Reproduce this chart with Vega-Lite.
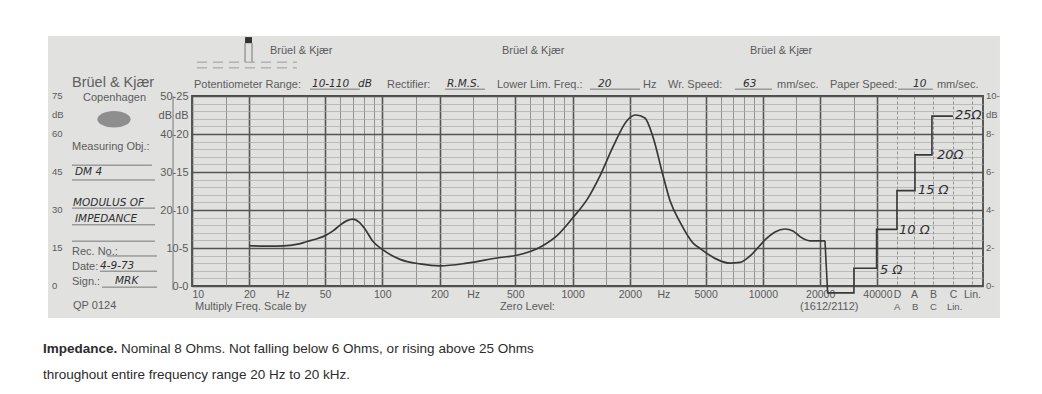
{
 "$schema": "https://vega.github.io/schema/vega-lite/v6.json",
 "width": 791,
 "height": 190,
 "autosize": {"type": "none"},
 "padding": {"left": 192, "top": 96, "right": 59, "bottom": 108},
 "background": "#e1e1e0",
 "config": {"view": {"stroke": "#4a4a4a", "strokeWidth": 1.8}, "font": "Liberation Sans"},
 "datasets": {
  "frame": [
   {"f": 0.9, "f2": 400000, "db": 65.8, "db2": 80},
   {"f": 0.9, "f2": 400000, "db": -8.4, "db2": -35},
   {"f": 0.9, "f2": 1.751, "db": -8.4, "db2": 65.8},
   {"f": 176200, "f2": 400000, "db": -8.4, "db2": 65.8}
  ],
  "lines": [
   {"f": 2.341, "f2": 6.16, "db": 31.8, "db2": 31.8},
   {"f": 2.341, "f2": 6.39, "db": 27.9, "db2": 27.9},
   {"f": 2.341, "f2": 6.39, "db": 20.5, "db2": 20.5},
   {"f": 2.341, "f2": 6.39, "db": 16.1, "db2": 16.1},
   {"f": 2.341, "f2": 6.39, "db": 11.8, "db2": 11.8},
   {"f": 3.57, "f2": 6.55, "db": 7.9, "db2": 7.9},
   {"f": 3.285, "f2": 6.55, "db": 3.9, "db2": 3.9},
   {"f": 3.365, "f2": 6.55, "db": -0.3, "db2": -0.3},
   {"f": 41.7, "f2": 76.3, "db": 51.8, "db2": 51.8},
   {"f": 213.5, "f2": 346.5, "db": 51.8, "db2": 51.8},
   {"f": 1234, "f2": 2261, "db": 51.8, "db2": 51.8},
   {"f": 7136, "f2": 11164, "db": 51.8, "db2": 51.8},
   {"f": 51300, "f2": 78300, "db": 51.8, "db2": 51.8},
   {"f": 7.95, "f2": 7.95, "db": 50, "db2": -1},
   {"f": 19.0, "f2": 19.0, "db": 63.9, "db2": 58.9},
   {"f": 20.67, "f2": 20.67, "db": 63.9, "db2": 58.9}
  ],
  "dashes": [
   {"f": 10.62, "f2": 35.6, "db": 58.9, "db2": 58.9},
   {"f": 10.62, "f2": 35.6, "db": 57.4, "db2": 57.4}
  ],
  "marker": [{"f": 19.0, "f2": 20.67, "db": 63.9, "db2": 65.5}],
  "logo": [{"f": 3.89, "db": 43.9}],
  "squares": [
   {"f": 12.59}, {"f": 15.85}, {"f": 19.95}, {"f": 25.12}, {"f": 31.62}, {"f": 39.81}, {"f": 50.12}, {"f": 63.1}, {"f": 79.43}, {"f": 100},
   {"f": 125.9}, {"f": 158.5}, {"f": 199.5}, {"f": 251.2}, {"f": 316.2}, {"f": 398.1}, {"f": 501.2}, {"f": 631}, {"f": 794.3}, {"f": 1000},
   {"f": 1259}, {"f": 1585}, {"f": 1995}, {"f": 2512}, {"f": 3162}, {"f": 3981}, {"f": 5012}, {"f": 6310}, {"f": 7943}, {"f": 10000},
   {"f": 12589}, {"f": 15849}, {"f": 19953}, {"f": 25119}, {"f": 31623}, {"f": 39811}, {"f": 50119}, {"f": 63096}, {"f": 79433}, {"f": 100000},
   {"f": 125893}
  ],
  "curve": [
   {"f": 20, "db": 10.6}, {"f": 24, "db": 10.5}, {"f": 28, "db": 10.5}, {"f": 32.7, "db": 10.7}, {"f": 36, "db": 11.0},
   {"f": 40.2, "db": 11.7}, {"f": 44.5, "db": 12.3}, {"f": 48.8, "db": 13.0}, {"f": 55.1, "db": 14.5}, {"f": 59.9, "db": 16.0},
   {"f": 65.3, "db": 17.2}, {"f": 70.2, "db": 17.6}, {"f": 75.5, "db": 16.8}, {"f": 81.1, "db": 15.0}, {"f": 89.4, "db": 11.7},
   {"f": 100.9, "db": 9.5}, {"f": 123.9, "db": 7.0}, {"f": 158, "db": 5.8}, {"f": 201, "db": 5.3}, {"f": 279, "db": 6.0},
   {"f": 415, "db": 7.5}, {"f": 510, "db": 8.1}, {"f": 674, "db": 10.2}, {"f": 850, "db": 13.8}, {"f": 1005, "db": 18.0},
   {"f": 1200, "db": 23.0}, {"f": 1393, "db": 29.0}, {"f": 1630, "db": 36.6}, {"f": 1930, "db": 43.5}, {"f": 2150, "db": 45.0},
   {"f": 2400, "db": 44.2}, {"f": 2646, "db": 39.2}, {"f": 2990, "db": 29.0}, {"f": 3250, "db": 22.5}, {"f": 3700, "db": 16.5},
   {"f": 4300, "db": 11.3}, {"f": 4700, "db": 9.8}, {"f": 5740, "db": 7.0}, {"f": 6710, "db": 6.0}, {"f": 7580, "db": 6.2},
   {"f": 8550, "db": 7.9}, {"f": 10500, "db": 12.6}, {"f": 11580, "db": 14.2}, {"f": 13070, "db": 15.0}, {"f": 14390, "db": 14.5},
   {"f": 15670, "db": 13.0}, {"f": 17670, "db": 11.9}, {"f": 21200, "db": 11.9}
  ],
  "cal": [
   {"i": 1, "f": 21200, "db": 11.9}, {"i": 2, "f": 21900, "db": -1.8}, {"i": 3, "f": 30100, "db": -1.8},
   {"i": 4, "f": 30100, "db": 4.66}, {"i": 5, "f": 39600, "db": 4.66}, {"i": 6, "f": 39600, "db": 14.9},
   {"i": 7, "f": 50660, "db": 14.9}, {"i": 8, "f": 50660, "db": 25.1}, {"i": 9, "f": 63000, "db": 25.1},
   {"i": 10, "f": 63000, "db": 34.5}, {"i": 11, "f": 77370, "db": 34.5}, {"i": 12, "f": 77370, "db": 44.7},
   {"i": 13, "f": 99760, "db": 44.7}
  ],
  "ps": [
   {"f": 1.838, "db": 50, "t": "75"}, {"f": 1.838, "db": 45, "t": "dB"}, {"f": 1.838, "db": 40, "t": "60"},
   {"f": 1.838, "db": 30, "t": "45"}, {"f": 1.838, "db": 20, "t": "30"}, {"f": 1.838, "db": 10, "t": "15"}, {"f": 1.838, "db": 0, "t": "0"},
   {"f": 148700, "db": 50, "t": "10-"}, {"f": 148700, "db": 45, "t": "dB"}, {"f": 148700, "db": 40, "t": "8-"},
   {"f": 148700, "db": 30, "t": "6-"}, {"f": 148700, "db": 20, "t": "4-"}, {"f": 148700, "db": 10, "t": "2-"}, {"f": 148700, "db": 0, "t": "0-"},
   {"f": 48900, "db": -5.5, "t": "A"}, {"f": 60770, "db": -5.5, "t": "B"}, {"f": 75500, "db": -5.5, "t": "C"}, {"f": 92800, "db": -5.5, "t": "Lin."}
  ],
  "pm": [
   {"f": 25.7, "db": 61.8, "t": "Brüel & Kjær"},
   {"f": 425.6, "db": 61.8, "t": "Brüel & Kjær"},
   {"f": 8550, "db": 61.8, "t": "Brüel & Kjær"},
   {"f": 2.674, "db": 49.5, "t": "Copenhagen"},
   {"f": 10.24, "db": 52.9, "t": "Potentiometer Range:"},
   {"f": 105.9, "db": 52.9, "t": "Rectifier:"},
   {"f": 400.6, "db": 52.9, "t": "Lower Lim. Freq.:"},
   {"f": 2344, "db": 52.9, "t": "Hz"},
   {"f": 3172, "db": 52.9, "t": "Wr. Speed:"},
   {"f": 11863, "db": 52.9, "t": "mm/sec."},
   {"f": 22520, "db": 52.9, "t": "Paper Speed:"},
   {"f": 82200, "db": 52.9, "t": "mm/sec."},
   {"f": 2.341, "db": 36.6, "t": "Measuring Obj.:"},
   {"f": 2.341, "db": 8.9, "t": "Rec. No.:"},
   {"f": 2.341, "db": 5.0, "t": "Date:"},
   {"f": 2.341, "db": 1.05, "t": "Sign.:"},
   {"f": 2.37, "db": -5.3, "t": "QP 0124"},
   {"f": 10.37, "db": -5.5, "t": "Multiply Freq. Scale by"},
   {"f": 415, "db": -5.5, "t": "Zero Level:"},
   {"f": 15670, "db": -5.5, "t": "(1612/2112)"}
  ],
  "brand": [{"f": 2.341, "db": 53.4, "t": "Brüel & Kjær"}],
  "hand": [
   {"f": 42.7, "db": 53.2, "t": "10-110"},
   {"f": 74.5, "db": 53.2, "t": "dB"},
   {"f": 218.8, "db": 53.2, "t": "R.M.S."},
   {"f": 1360, "db": 53.2, "t": "20"},
   {"f": 7860, "db": 53.2, "t": "63"},
   {"f": 61500, "db": 53.2, "t": "10"},
   {"f": 2.428, "db": 30.0, "t": "DM 4"},
   {"f": 2.37, "db": 21.8, "t": "MODULUS OF"},
   {"f": 2.428, "db": 17.6, "t": "IMPEDANCE"},
   {"f": 3.285, "db": 5.3, "t": "4-9-73"},
   {"f": 3.94, "db": 1.3, "t": "MRK"}
  ],
  "ohm": [
   {"f": 41250, "db": 4.2, "t": "5 Ω"},
   {"f": 51900, "db": 14.7, "t": "10 Ω"},
   {"f": 65300, "db": 25.3, "t": "15 Ω"},
   {"f": 82200, "db": 34.5, "t": "20Ω"},
   {"f": 102200, "db": 45.0, "t": "25Ω"}
  ],
  "capbold": [{"f": 1.648, "db": -16.6, "t": "Impedance."}],
  "cap": [
   {"f": 4.236, "db": -16.6, "t": "Nominal 8 Ohms. Not falling below 6 Ohms, or rising above 25 Ohms"},
   {"f": 1.648, "db": -23.4, "t": "throughout entire frequency range 20 Hz to 20 kHz."}
  ]
 },
 "encoding": {
  "x": {
   "field": "f", "type": "quantitative",
   "scale": {"type": "log", "domain": [10, 143500], "nice": false},
   "axis": {
    "title": null,
    "values": [10, 15, 20, 30, 40, 50, 60, 70, 80, 90, 100, 150, 200, 300, 400, 500, 600, 700, 800, 900, 1000, 1500, 2000, 3000, 4000, 5000, 6000, 7000, 8000, 9000, 10000, 15000, 20000, 30000, 40000, 50700, 62200, 78300, 99800, 125600],
    "format": "d",
    "labelExpr": "indexof([10,20,50,100,200,500,1000,2000,5000,10000,20000,40000], datum.value) >= 0 ? datum.label : (datum.value == 30 || datum.value == 300 || datum.value == 3000) ? 'Hz' : datum.value == 50700 ? 'D' : datum.value == 62200 ? 'A' : datum.value == 78300 ? 'B' : datum.value == 99800 ? 'C' : datum.value == 125600 ? 'Lin.' : ''",
    "domain": false, "ticks": false, "tickSize": 0,
    "labelPadding": 3, "labelFontSize": 10.5, "labelColor": "#5a5a5a", "labelFont": "Liberation Sans",
    "labelFlush": true, "labelOverlap": false,
    "gridColor": {"condition": {"test": "indexof([10,20,50,100,200,500,1000,2000,5000,10000,20000,40000], datum.value) >= 0", "value": "#555555"}, "value": "#7f7f7f"},
    "gridWidth": {"condition": {"test": "indexof([10,20,50,100,200,500,1000,2000,5000,10000,20000,40000], datum.value) >= 0", "value": 1.6}, "value": 0.8},
    "gridDash": {"condition": {"test": "datum.value > 45000", "value": [3, 2]}, "value": []}
   }
  },
  "y": {
   "field": "db", "type": "quantitative",
   "scale": {"domain": [0, 50], "nice": false, "zero": false},
   "axis": {
    "title": null,
    "values": [0, 2, 4, 6, 8, 10, 12, 14, 16, 18, 20, 22, 24, 26, 28, 30, 32, 34, 36, 38, 40, 42, 44, 45, 46, 48, 50],
    "labelExpr": "datum.value == 45 ? 'dB dB' : datum.value % 10 == 0 ? datum.value + '-' + datum.value / 2 : ''",
    "domain": false, "ticks": false, "tickSize": 0,
    "labelPadding": 4, "labelFontSize": 11, "labelColor": "#5a5a5a", "labelFont": "Liberation Sans",
    "labelOverlap": false, "labelFlush": false,
    "gridColor": {"condition": {"test": "datum.value % 10 == 0", "value": "#555555"}, "value": "#a9a9a9"},
    "gridWidth": {"condition": {"test": "datum.value % 10 == 0", "value": 1.6}, "value": 0.7},
    "gridOpacity": {"condition": {"test": "datum.value == 45", "value": 0}, "value": 1}
   }
  }
 },
 "layer": [
  {"data": {"name": "frame"}, "mark": {"type": "rect", "color": "#ffffff"},
   "encoding": {"x2": {"field": "f2"}, "y2": {"field": "db2"}}},
  {"data": {"name": "lines"}, "mark": {"type": "rule", "color": "#777777", "strokeWidth": 1},
   "encoding": {"x2": {"field": "f2"}, "y2": {"field": "db2"}}},
  {"data": {"name": "dashes"}, "mark": {"type": "rule", "color": "#9a9a9a", "strokeWidth": 1, "strokeDash": [10, 6]},
   "encoding": {"x2": {"field": "f2"}, "y2": {"field": "db2"}}},
  {"data": {"name": "marker"}, "mark": {"type": "rect", "color": "#333333"},
   "encoding": {"x2": {"field": "f2"}, "y2": {"field": "db2"}}},
  {"data": {"name": "logo"}, "mark": {"type": "point", "filled": true, "color": "#8e8e8e", "opacity": 1, "size": 1100, "shape": "M -1 0 A 1 0.5 0 1 0 1 0 A 1 0.5 0 1 0 -1 0 Z"}},
  {"data": {"name": "squares"}, "mark": {"type": "point", "shape": "square", "filled": true, "size": 14, "color": "#2a2a2a", "opacity": 1},
   "encoding": {"y": {"datum": 49.2, "type": "quantitative"}}},
  {"data": {"name": "curve"}, "mark": {"type": "line", "interpolate": "monotone", "color": "#383838", "strokeWidth": 1.7}},
  {"data": {"name": "cal"}, "mark": {"type": "line", "interpolate": "linear", "color": "#383838", "strokeWidth": 1.6},
   "encoding": {"order": {"field": "i", "type": "quantitative"}}},
  {"data": {"name": "ps"}, "mark": {"type": "text", "align": "left", "baseline": "middle", "fontSize": 9.5, "color": "#5c5c5c", "font": "Liberation Sans"},
   "encoding": {"text": {"field": "t"}}},
  {"data": {"name": "pm"}, "mark": {"type": "text", "align": "left", "baseline": "middle", "fontSize": 11, "color": "#5c5c5c", "font": "Liberation Sans"},
   "encoding": {"text": {"field": "t"}}},
  {"data": {"name": "brand"}, "mark": {"type": "text", "align": "left", "baseline": "middle", "fontSize": 14.5, "color": "#606060", "font": "Liberation Sans"},
   "encoding": {"text": {"field": "t"}}},
  {"data": {"name": "hand"}, "mark": {"type": "text", "align": "left", "baseline": "middle", "fontSize": 10.5, "color": "#2e2e2e", "font": "DejaVu Sans", "fontStyle": "italic"},
   "encoding": {"text": {"field": "t"}}},
  {"data": {"name": "ohm"}, "mark": {"type": "text", "align": "left", "baseline": "middle", "fontSize": 13, "color": "#2e2e2e", "font": "DejaVu Sans", "fontStyle": "italic"},
   "encoding": {"text": {"field": "t"}}},
  {"data": {"name": "capbold"}, "mark": {"type": "text", "align": "left", "baseline": "middle", "fontSize": 13.5, "fontWeight": "bold", "color": "#2c2c2c", "font": "Liberation Sans"},
   "encoding": {"text": {"field": "t"}}},
  {"data": {"name": "cap"}, "mark": {"type": "text", "align": "left", "baseline": "middle", "fontSize": 13.5, "color": "#2c2c2c", "font": "Liberation Sans"},
   "encoding": {"text": {"field": "t"}}}
 ]
}
